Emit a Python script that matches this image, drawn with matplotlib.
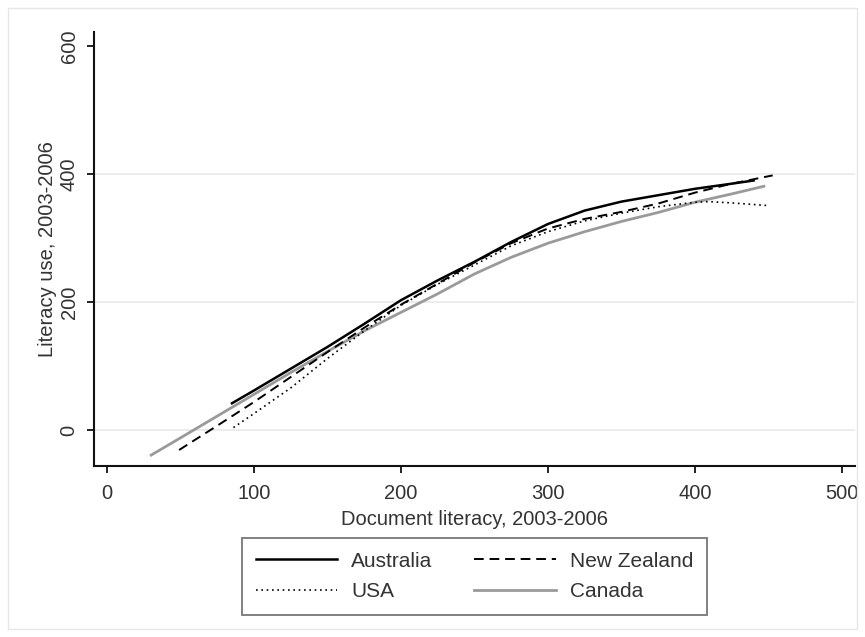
import matplotlib
matplotlib.use("Agg")
import matplotlib.pyplot as plt
from matplotlib.patches import Rectangle

# smoothed curves (document literacy -> literacy use)
aus_x = [85, 100, 125, 150, 175, 200, 225, 250, 275, 300, 325, 350, 375, 400, 425, 440]
aus_y = [42, 62, 96, 130, 166, 203, 234, 263, 294, 322, 343, 357, 367, 377, 385, 390]

nz_x = [49, 75, 100, 125, 150, 175, 200, 225, 250, 275, 300, 325, 350, 375, 400, 425, 453]
nz_y = [-31, 7, 44, 83, 122, 160, 196, 229, 262, 292, 315, 330, 341, 354, 371, 385, 398]

usa_x = [86, 100, 125, 150, 175, 200, 225, 250, 275, 300, 325, 350, 375, 400, 410, 425, 449]
usa_y = [4, 26, 66, 112, 155, 195, 228, 258, 288, 310, 327, 339, 349, 356, 357, 355, 351]

can_x = [30, 50, 75, 100, 125, 150, 175, 200, 225, 250, 275, 300, 325, 350, 375, 400, 425, 447]
can_y = [-39, -12, 22, 56, 90, 123, 155, 184, 213, 244, 270, 292, 310, 326, 340, 356, 369, 381]

x_ticks = [0, 100, 200, 300, 400, 500]
y_ticks = [0, 200, 400, 600]
grid_y = [0, 200, 400]

plt.rcParams['font.family'] = ['Liberation Sans', 'DejaVu Sans']
txt = '#333333'
fs = 14.5

fig = plt.figure(figsize=(8.65, 6.37), dpi=100)
fig.patches.append(Rectangle((8 / 865, 8 / 637), 849 / 865, 621 / 637, transform=fig.transFigure,
                             fill=False, edgecolor='#e6e6e6', linewidth=1.0))

ax = fig.add_axes([94 / 865, 1 - 466 / 637, (855 - 94) / 865, (466 - 32) / 637])
ax.set_xlim(-8.9, 509)
ax.set_ylim(-56, 622)

for g in grid_y:
    ax.axhline(g, color='#ebebeb', linewidth=1.3, zorder=0)

ax.plot(aus_x, aus_y, color='black', linewidth=1.8, label='Australia', zorder=4)
ax.plot(nz_x, nz_y, color='black', linewidth=1.4, linestyle=(0, (5, 3)), label='New Zealand', zorder=3)
ax.plot(usa_x, usa_y, color='black', linewidth=1.2, linestyle=(0, (1, 2.2)), label='USA', zorder=3)
ax.plot(can_x, can_y, color='#9a9a9a', linewidth=2.0, label='Canada', zorder=2)

for s in ['top', 'right']:
    ax.spines[s].set_visible(False)
for s in ['left', 'bottom']:
    ax.spines[s].set_linewidth(1.5)
    ax.spines[s].set_color('#111111')

ax.set_xticks(x_ticks)
ax.set_yticks(y_ticks)
ax.tick_params(axis='both', direction='out', length=5, width=1.3, colors='#111111',
               labelsize=fs, labelcolor=txt)
ax.tick_params(axis='x', pad=8)
ax.tick_params(axis='y', labelrotation=90, pad=6)
for lab in ax.get_yticklabels():
    lab.set_verticalalignment('center')

ax.set_xlabel('Document literacy, 2003-2006', fontsize=fs, color=txt, labelpad=5)
ax.set_ylabel('Literacy use, 2003-2006', fontsize=fs, color=txt, labelpad=2)

handles, labels = ax.get_legend_handles_labels()
order = [0, 2, 1, 3]
leg = fig.legend([handles[i] for i in order], [labels[i] for i in order], ncol=2,
                 loc='upper center', bbox_to_anchor=(474.5 / 865, 1 - 538 / 637),
                 fontsize=15, frameon=True, fancybox=False, handlelength=3.9,
                 handletextpad=0.7, columnspacing=2.0, borderpad=0.65, labelspacing=0.55,
                 borderaxespad=0)
leg.get_frame().set_edgecolor('#555555')
leg.get_frame().set_linewidth(1.3)
for t in leg.get_texts():
    t.set_color(txt)

fig.savefig('out.png', dpi=100, facecolor='white')
